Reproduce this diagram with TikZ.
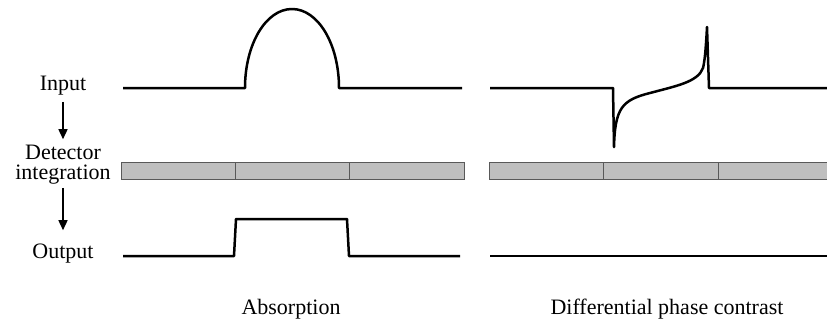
\documentclass[tikz,border=0pt]{standalone}
\usepackage{fontspec}
\setmainfont{Liberation Serif}
\usetikzlibrary{arrows.meta}
\begin{document}
\begin{tikzpicture}[x=1pt,y=-1pt,
  lbl/.style={inner sep=0pt,font=\fontsize{22}{20}\selectfont},
  sig/.style={line width=2.5pt,line join=round},
  cell/.style={draw=black!65,fill=black!25,line width=1pt},
  arr/.style={line width=1.4pt,-{Triangle[length=10pt,width=9pt]}}]
\useasboundingbox (0,0) rectangle (827,327);
% labels
\node[lbl,anchor=base] (input) at (63,90) {Input};
\node[lbl,align=center] (det) at (63,165) {Detector\\integration};
\node[lbl,anchor=base] (output) at (63,258) {Output};
\node[lbl,anchor=base] (abs) at (291,314) {Absorption};
\node[lbl,anchor=base] (dpc) at (667,314) {Differential phase contrast};
\draw[arr,shorten <=7pt,shorten >=6pt] (input) -- (det);
\draw[arr,shorten <=3pt,shorten >=13pt] (det) -- (output);
% absorption input
\draw[sig] (123,88) -- (245,88) .. controls (245,44) and (266,9) .. (292,9)
  .. controls (318,9) and (339,44) .. (339,88) -- (462,88);
% absorption detector
\draw[cell] (121,162) rectangle (235,179);
\draw[cell] (235,162) rectangle (349,179);
\draw[cell] (349,162) rectangle (464,179);
% absorption output
\draw[sig] (123,256) -- (234,256) -- (236,219) -- (347,219) -- (349,256) -- (460,256);
% DPC input
\draw[sig] (490,88) -- (613,88) -- (614,147)
  .. controls (615,108) and (622,100) .. (650,93)
  .. controls (676,86) and (698,82) .. (703,68)
  .. controls (705,60) and (706,45) .. (707,27) -- (709,88) -- (827,88);
% DPC detector
\draw[cell] (489,162) rectangle (603,179);
\draw[cell] (603,162) rectangle (718,179);
\draw[cell] (718,162) rectangle (832,179);
% DPC output
\draw[sig] (490,256) -- (827,256);
\end{tikzpicture}
\end{document}
